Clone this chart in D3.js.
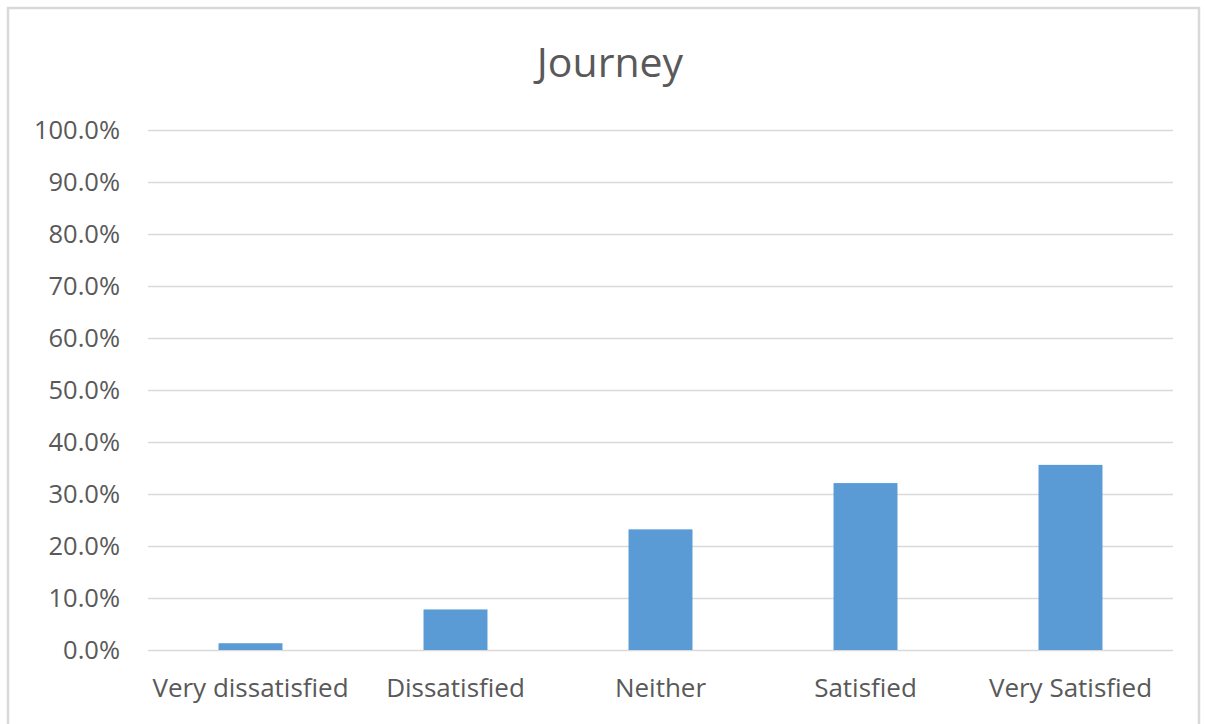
<!DOCTYPE html>
<html><head><meta charset="utf-8">
<script src="https://cdn.jsdelivr.net/npm/d3@7"></script>
<style>body{margin:0;background:#fff;} svg{display:block;}</style>
</head><body>
<script>
const categories = ["Very dissatisfied","Dissatisfied","Neither","Satisfied","Very Satisfied"];
const values = [0.013, 0.078, 0.232, 0.321, 0.356];
const yTicks = [0,0.1,0.2,0.3,0.4,0.5,0.6,0.7,0.8,0.9,1.0];
const chartTitle = "Journey";

(function(){
const W=1205,H=724;
const svg=d3.select("body").append("svg").attr("width",W).attr("height",H);
svg.append("rect").attr("x",0).attr("y",0).attr("width",W).attr("height",H).attr("fill","#fff");
svg.append("rect").attr("x",8).attr("y",8).attr("width",1191).attr("height",730)
  .attr("fill","#fff").attr("stroke","#d9d9d9").attr("stroke-width",2.5);

const pL=148,pR=1173,pT=130,pB=650;
const x=d3.scaleBand().domain(categories).range([pL,pR]).paddingInner(0.688).paddingOuter(0.344);
const y=d3.scaleLinear().domain([0,1]).range([pB,pT]);

const font="'Open Sans', sans-serif";
const gy=svg.append("g").attr("transform",`translate(${pL},0)`)
  .call(d3.axisLeft(y).tickValues(yTicks).tickSize(-(pR-pL)).tickPadding(28).tickFormat(d3.format(".1%")));
gy.select(".domain").remove();
gy.selectAll(".tick line").attr("stroke","#d9d9d9").attr("stroke-width",1.3);
gy.selectAll(".tick text").attr("fill","#595959").style("font-family",font).style("font-size","25.5px");

svg.selectAll(".bar").data(values).join("rect").attr("class","bar")
  .attr("x",(d,i)=>x(categories[i])).attr("width",x.bandwidth())
  .attr("y",d=>y(d)).attr("height",d=>y(0)-y(d)).attr("fill","#5b9bd5");

const gx=svg.append("g").attr("transform",`translate(0,${pB})`)
  .call(d3.axisBottom(x).tickSize(0).tickPadding(29));
gx.select(".domain").remove();
gx.selectAll(".tick text").attr("fill","#595959").style("font-family",font).style("font-size","26px");

svg.append("text").attr("x",610).attr("y",77).attr("text-anchor","middle")
  .attr("fill","#595959").style("font-family",font).style("font-size","41px").text(chartTitle);
})();
</script>
</body></html>
